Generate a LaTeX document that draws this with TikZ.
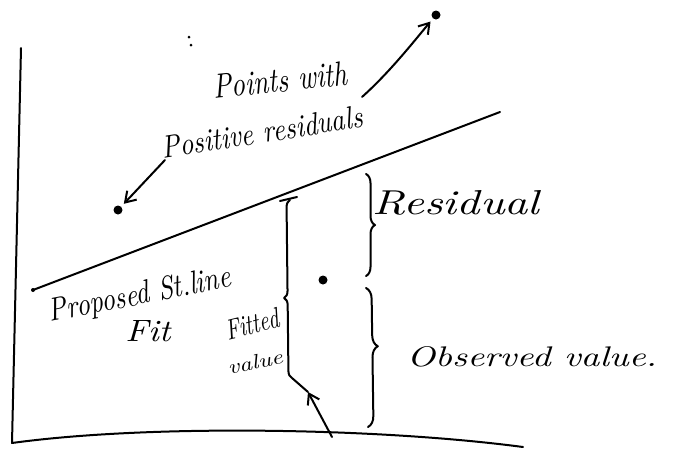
\documentclass[tikz,border=0pt]{standalone}
\usepackage{graphicx}
\usetikzlibrary{arrows.meta,decorations.pathreplacing}
\newcommand{\hw}[3]{\resizebox{#1pt}{#2pt}{\itshape #3}}
\begin{document}
\begin{tikzpicture}[x=1pt,y=-1pt,line width=2pt,line cap=round,line join=round,
  lbl/.style={inner sep=0pt},
  dotpt/.style={circle,fill=black,inner sep=0pt,minimum size=9pt},
  tinydot/.style={circle,fill=black,inner sep=0pt,minimum size=4pt},
  arr/.style={-{Straight Barb[length=10pt,width=13pt]}},
  bracel/.style={decorate,decoration={brace,amplitude=9pt}}]
\useasboundingbox (0,0) rectangle (686,453);
\fill[white] (0,0) rectangle (686,453);
% axes
\coordinate (ytop) at (21,48);
\coordinate (origin) at (12,443);
\coordinate (xend) at (523,447);
\draw (ytop) -- (origin) .. controls (150,424) and (380,428) .. (xend);
% fitted line
\node[tinydot] (ls) at (33,290) {};
\coordinate (le) at (500,112);
\draw (ls.center) -- (le);
% points
\node[dotpt] (pUR) at (436,15) {};
\node[dotpt] (pLL) at (118,210) {};
\node[dotpt] (pM) at (323,280) {};
\node[tinydot,minimum size=3pt] (c1) at (189,37) {};
\node[tinydot,minimum size=3pt] (c2) at (191,45) {};
% arrows
\coordinate (a1s) at (362,97);
\coordinate (a2s) at (165,160);
\draw[arr,shorten >=3pt] (a1s) .. controls (390,72) and (415,40) .. (pUR);
\draw[arr,shorten >=3pt] (a2s) -- (pLL);
% labels
\node[lbl,rotate=6] (t1) at (280,80) {\hw{134}{24}{Points with}};
\node[lbl,rotate=9] (t2) at (262,132) {\hw{203}{22}{Positive residuals}};
\node[lbl] (t3) at (456,203) {\hw{167}{24}{Residual}};
\node[lbl] (t4) at (532,357) {\hw{250}{20}{Observed value.}};
\node[lbl,rotate=11] (t5) at (140,296) {\hw{185}{23}{Proposed St.line}};
\node[lbl] (t6) at (148,331) {\hw{45}{21}{Fit}};
\node[lbl,rotate=14] (t7) at (252,324) {\hw{54}{20}{Fitted}};
\node[lbl,rotate=12] (t8) at (255,362) {\hw{56}{14}{value}};
% residual brace
\coordinate (rTop) at (366,174);
\coordinate (rBot) at (366,276);
\draw[bracel] (rTop) -- (rBot);
% observed brace
\coordinate (oTop) at (366,288);
\coordinate (oBot) at (368,427);
\draw[bracel,decoration={aspect=0.42,amplitude=11pt}] (oTop) -- (oBot);
% fitted brace
\coordinate (fTop) at (290,200);
\coordinate (fBot) at (292,378);
\draw[bracel,decoration={aspect=0.45,amplitude=7pt}] (fBot) -- (fTop);
\coordinate (hk1) at (280,201);
\coordinate (hk2) at (297,197);
\draw (hk1) -- (hk2);
% observed pointer from axis
\coordinate (base) at (332,437);
\coordinate (amid) at (308,392);
\draw[arr] (base) -- (amid);
\draw (amid) -- (fBot);
\end{tikzpicture}
\end{document}
